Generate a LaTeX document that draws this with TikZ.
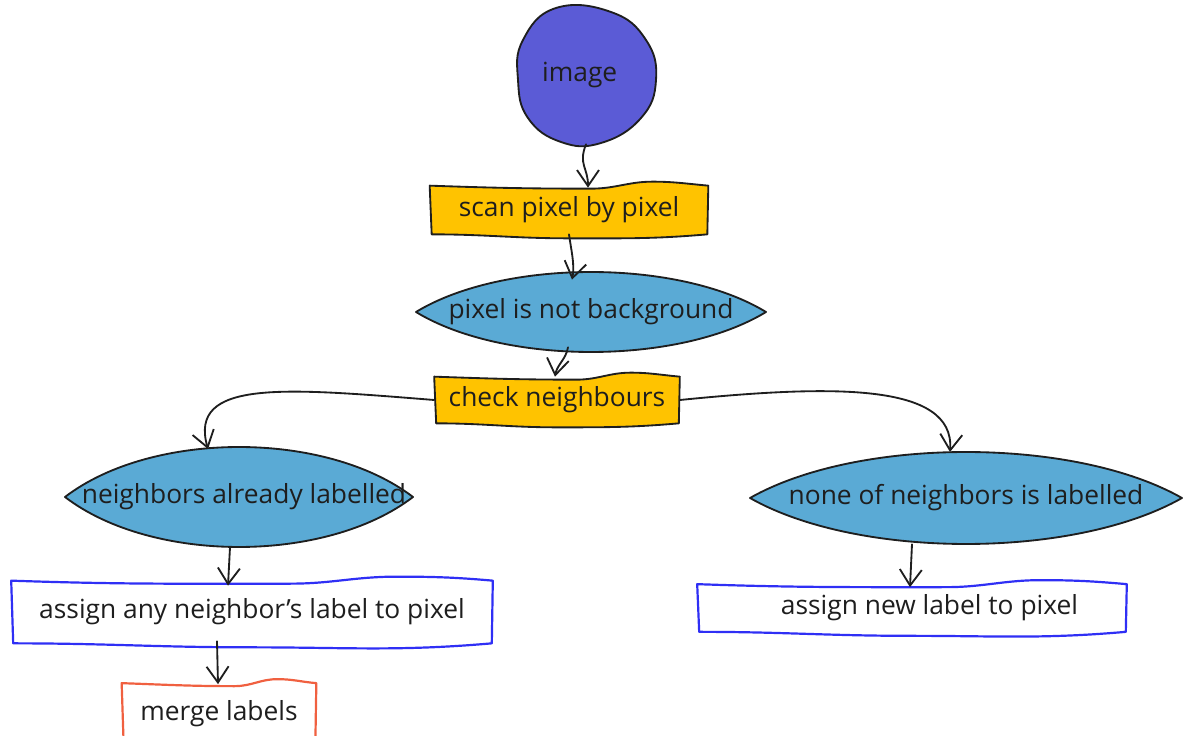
\documentclass[tikz,border=0pt]{standalone}
\usepackage{fontspec}
\setmainfont{Open Sans}
\usetikzlibrary{arrows.meta,calc,backgrounds}

\definecolor{imgfill}{HTML}{5B5BD6}
\definecolor{stepyellow}{HTML}{FFC300}
\definecolor{lensblue}{HTML}{5AAAD5}
\definecolor{boxblue}{HTML}{2F2FF5}
\definecolor{boxred}{HTML}{F06040}
\definecolor{inkblack}{HTML}{1E1E1E}

\tikzset{
  conn/.style={draw=inkblack, line width=1.05pt, line cap=round,
    -{Straight Barb[length=3.2mm,width=4.4mm,line width=1.05pt]}},
  lbl/.style={font=\fontsize{15}{18}\selectfont, inner sep=0pt, text=inkblack},
  ink/.style={draw=inkblack, line width=1.05pt, line join=round},
  colorline/.style={line width=1.25pt},
}

% hand-drawn box with a wavy top and bottom edge, drawn round a node
\newcommand\sketchbox[2]{%
  \draw[ink,#2] ($(#1.south west)+(2,0)$) -- (#1.north west)
    to[out=-2,in=180] ($(#1.north west)!0.58!(#1.north east)+(0,3)$)
    to[out=0,in=180] ($(#1.north west)!0.8!(#1.north east)+(0,-4)$)
    to[out=0,in=175] (#1.north east) -- ($(#1.south east)+(-1,0)$)
    to[out=185,in=0] ($(#1.south west)!0.5!(#1.south east)+(0,4)$)
    to[out=180,in=0] ($(#1.south west)+(2,0)$) -- cycle;}

% pointed lens (half width #2, half height #3) round a node
\newcommand\lensfor[3]{%
  \draw[ink, fill=lensblue, shift={(#1.center)}] (-#2,0)
    .. controls ({-0.5*#2},{-1.333*#3}) and ({0.5*#2},{-1.333*#3}) .. (#2,0)
    .. controls ({0.5*#2},{1.333*#3}) and ({-0.5*#2},{1.333*#3}) .. cycle;}

\begin{document}
\begin{tikzpicture}[x=0.02cm,y=-0.02cm]
\useasboundingbox (0,0) rectangle (1188,736);

% labels
\node[lbl, circle, minimum size=2.76cm] (img) at (586,75) {\raisebox{3pt}{image}\hspace*{0.25cm}};
\node[lbl, minimum width=5.56cm, minimum height=0.96cm] (scan) at (569,210) {scan pixel by pixel};
\node[lbl, minimum width=7cm, minimum height=1.6cm] (bg) at (591,312) {pixel is not background};
\node[lbl, minimum width=4.9cm, minimum height=0.92cm] (chk) at (557,400) {check neighbours};
\node[lbl, minimum width=6.96cm, minimum height=2cm] (nal) at (239,497) {\hspace*{0.2cm}neighbors already labelled};
\node[lbl, minimum width=8.64cm, minimum height=1.84cm] (non) at (966,498) {none of neighbors is labelled};
\node[lbl, minimum width=9.62cm, minimum height=1.24cm] (anl) at (252,612) {assign any neighbor's label to pixel};
\node[lbl, minimum width=8.58cm, minimum height=0.94cm] (anew) at (912,608) {\hspace*{0.7cm}assign new label to pixel};
\node[lbl, minimum width=3.88cm, minimum height=1.22cm] (mrg) at (219,714) {merge labels};

% shapes behind the labels
\begin{scope}[on background layer]
  \draw[ink, fill=imgfill, shift={(img.center)}] plot[smooth cycle, tension=0.75]
    coordinates {(-30,-67) (25,-63) (60,-35) (70,5) (55,43) (15,68) (-25,67) (-58,43) (-68,5) (-63,-35)};
  \sketchbox{scan}{fill=stepyellow}
  \lensfor{bg}{175}{40}
  \sketchbox{chk}{fill=stepyellow}
  \lensfor{nal}{174}{50}
  \lensfor{non}{216}{46}
  \sketchbox{anl}{fill=white, draw=boxblue, colorline}
  \sketchbox{anew}{fill=white, draw=boxblue, colorline}
  \sketchbox{mrg}{fill=white, draw=boxred, colorline}
\end{scope}

% connectors
\draw[conn] (img.south) .. controls +(-8,20) and +(0,-20) .. ($(scan.north)+(19,2)$);
\draw[conn] (scan.south) .. controls +(2,15) and +(3,-15) .. ($(bg.north)+(-19,8)$);
\draw[conn] ($(bg.south)+(-23,-5)$) .. controls +(-2,12) and +(2,-12) .. ($(chk.north)+(-2,0)$);
\draw[conn] (chk.west) .. controls +(-150,-12) and +(-20,-70) .. ($(nal.center)+(-31,-48)$);
\draw[conn] (chk.east) .. controls +(150,-15) and +(5,-70) .. ($(non.center)+(-16,-46)$);
\draw[conn] ($(nal.south)+(-9,0)$) -- ($(anl.north)+(-24,5)$);
\draw[conn] ($(anl.south)+(-35,-2)$) -- ($(mrg.north)+(-1,1)$);
\draw[conn] ($(non.south)+(-54,0)$) -- ($(anew.north)+(-2,3)$);
\end{tikzpicture}
\end{document}
